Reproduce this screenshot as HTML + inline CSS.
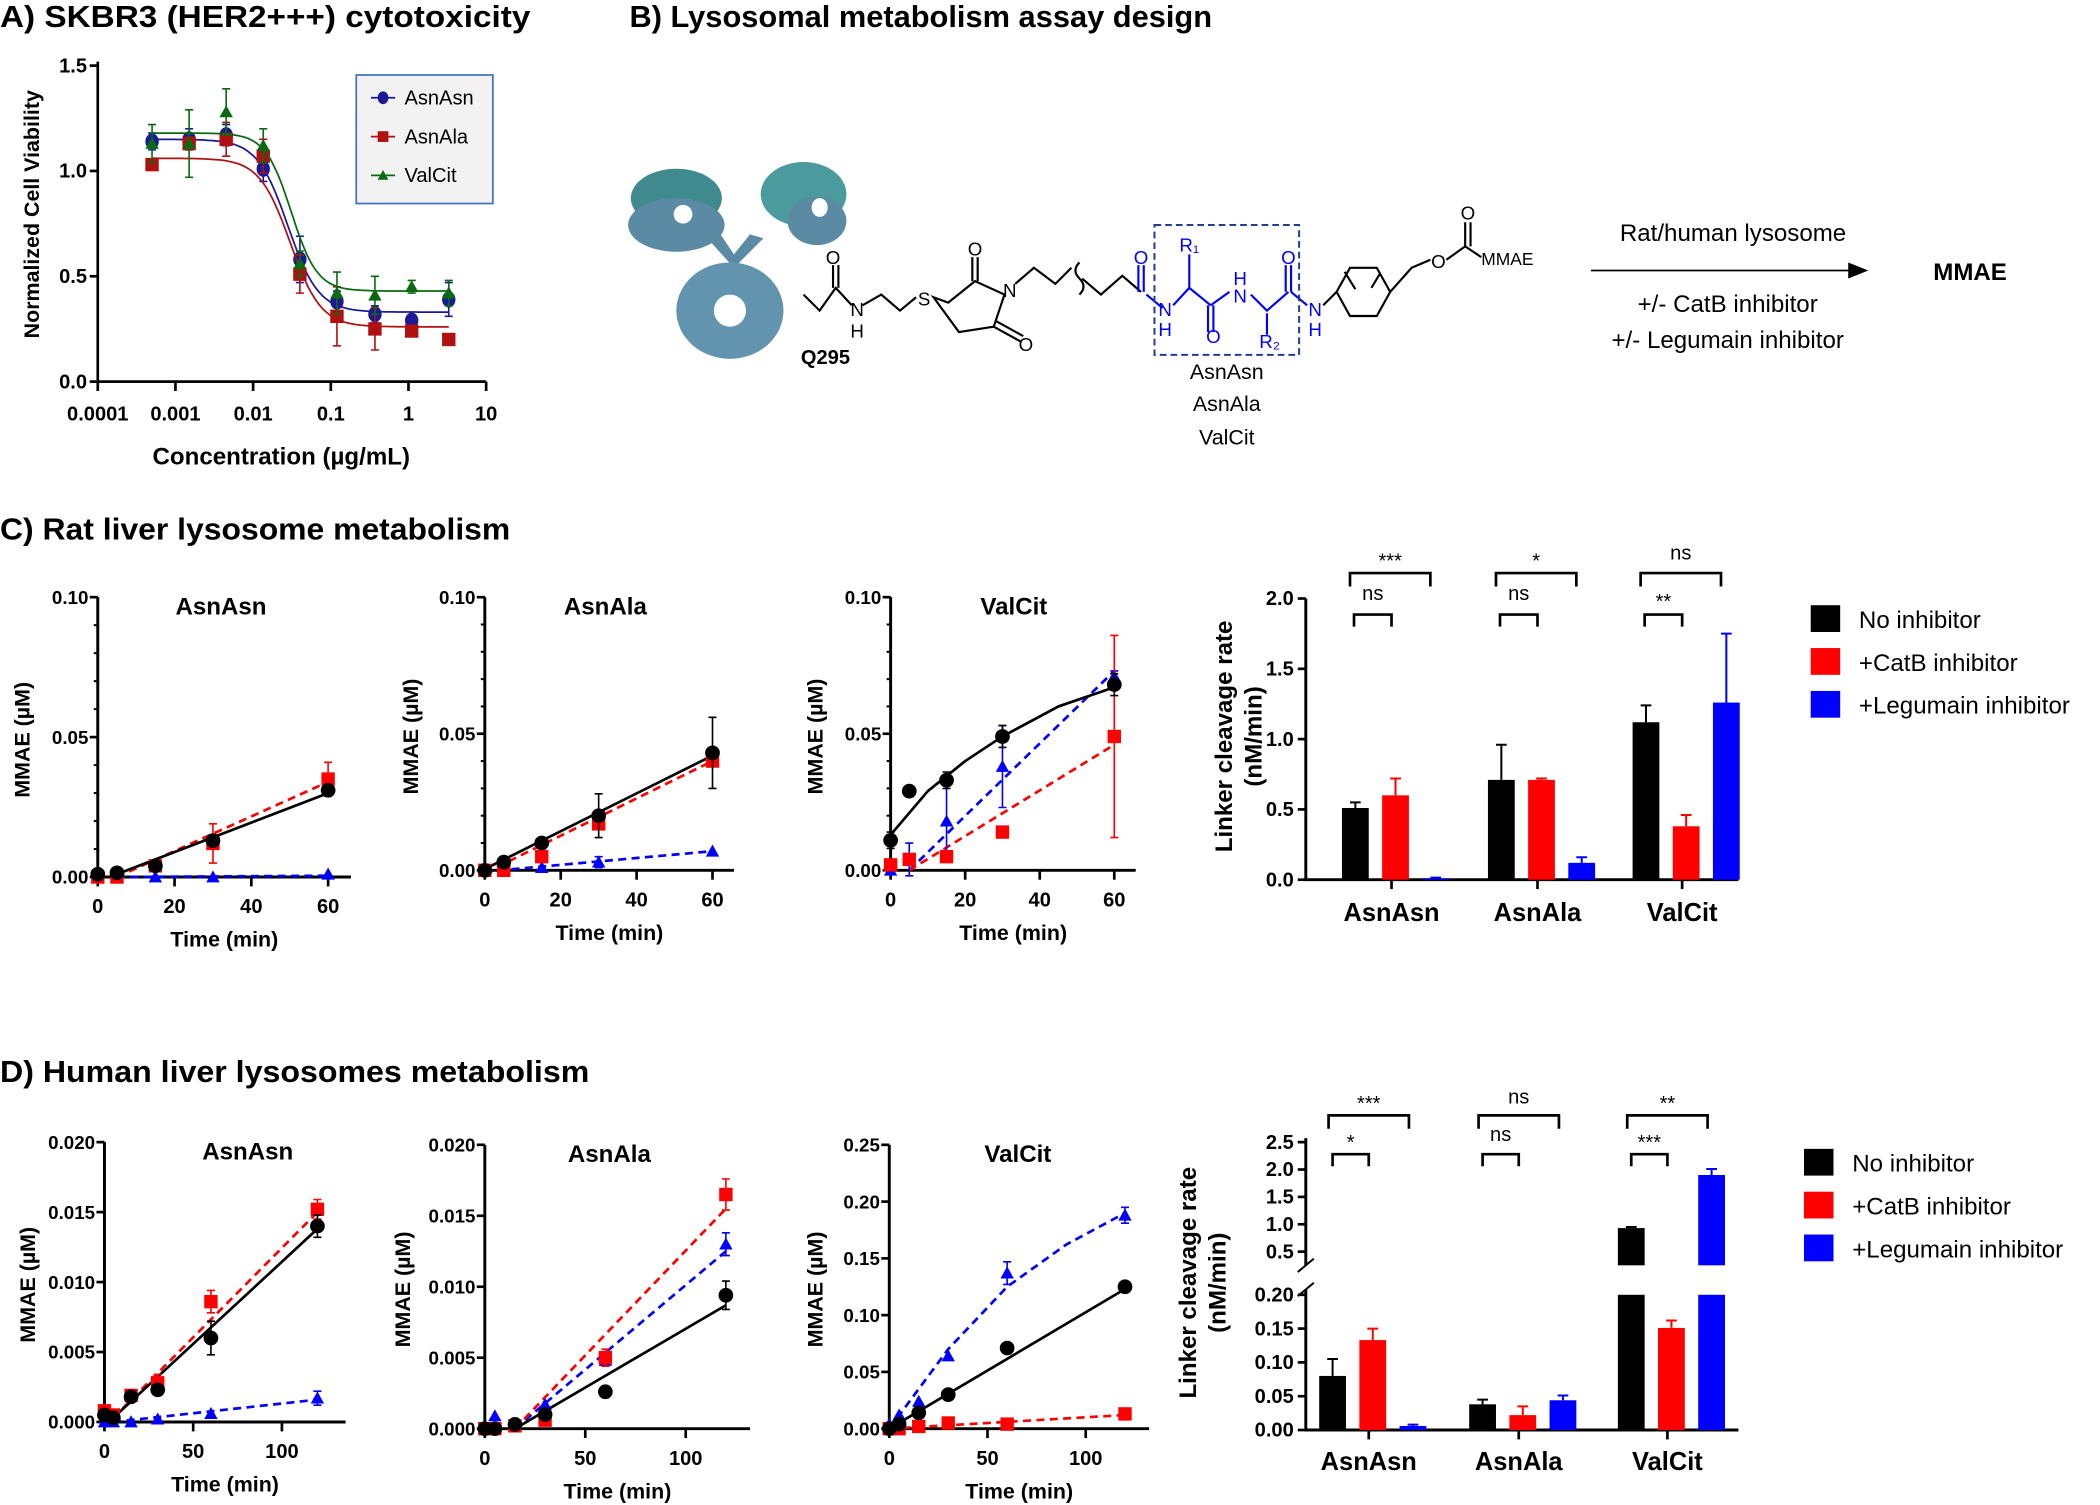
<!DOCTYPE html>
<html><head><meta charset="utf-8">
<style>
html,body{margin:0;padding:0;background:#fff;}
svg{display:block;}
text{font-family:"Liberation Sans",Arial,sans-serif;}
.t{font-size:23px;fill:#000;font-weight:bold;}
.b{font-weight:bold;}
</style></head>
<body>
<svg id="fig" xmlns="http://www.w3.org/2000/svg" width="2100" height="1505" viewBox="0 0 1568 1124" preserveAspectRatio="none">
<rect x="0" y="0" width="1568" height="1124" fill="#fff"/>
<text class="t" x="0" y="20" textLength="396" lengthAdjust="spacingAndGlyphs">A) SKBR3 (HER2+++) cytotoxicity</text>
<text class="t" x="470" y="20" textLength="435" lengthAdjust="spacingAndGlyphs">B) Lysosomal metabolism assay design</text>
<text class="t" x="0" y="403" textLength="381" lengthAdjust="spacingAndGlyphs">C) Rat liver lysosome metabolism</text>
<text class="t" x="0" y="808" textLength="440" lengthAdjust="spacingAndGlyphs">D) Human liver lysosomes metabolism</text>

<g id="antibody">
<ellipse cx="505" cy="148" rx="34" ry="22" fill="#3f8a8e"/>
<ellipse cx="505" cy="168" rx="36" ry="20" fill="#5a8aa4"/>
<ellipse cx="510" cy="160" rx="7" ry="7" fill="#fff"/>
<ellipse cx="600" cy="145" rx="32" ry="24" fill="#4a9a9e"/>
<ellipse cx="610" cy="165" rx="22" ry="18" fill="#5a8aa4"/>
<ellipse cx="612" cy="155" rx="6" ry="7" fill="#fff"/>
<path d="M530 180 L548 200 L570 178 L560 175 L548 190 L538 175 Z" fill="#5a8aa4"/>
<ellipse cx="545" cy="232" rx="40" ry="36" fill="#6294b0"/>
<ellipse cx="545" cy="232" rx="12" ry="12" fill="#fff"/>
</g>
<text x="598" y="272" font-size="15" class="b">Q295</text>
<g id="structure" fill="none" stroke-width="1.6"></g>
<rect x="862" y="168" width="108" height="97" fill="none" stroke="#1f3f8f" stroke-width="1.5" stroke-dasharray="5,3"/>
<text x="916" y="283" font-size="16" text-anchor="middle">AsnAsn</text>
<text x="916" y="307" font-size="16" text-anchor="middle">AsnAla</text>
<text x="916" y="332" font-size="16" text-anchor="middle">ValCit</text>
<text x="1294" y="180" font-size="18" text-anchor="middle">Rat/human lysosome</text>
<line x1="1188" y1="202" x2="1382" y2="202" stroke="#000" stroke-width="1.3"/>
<polygon points="1380,196 1395,202 1380,208" fill="#000"/>
<text x="1471" y="209" font-size="18" class="b" text-anchor="middle">MMAE</text>
<text x="1290" y="233" font-size="18" text-anchor="middle">+/- CatB inhibitor</text>
<text x="1290" y="260" font-size="18" text-anchor="middle">+/- Legumain inhibitor</text>
<g id="plots"></g>
</svg>
<script>
// ---------- Panel A data ----------
const concA = [0.0005,0.0015,0.0045,0.0135,0.04,0.12,0.37,1.1,3.3];
const aAsnAsn = [1.14,1.15,1.17,1.01,0.58,0.38,0.32,0.29,0.39];
const aAsnAsnErr = [0.04,0.05,0.05,0.06,0.11,0.05,0.04,0.02,0.08];
const aAsnAla = [1.03,1.13,1.15,1.07,0.51,0.31,0.25,0.24,0.20];
const aAsnAlaErr = [0.02,0.03,0.08,0.08,0.09,0.14,0.10,0.02,0.02];
const aValCit = [1.13,1.13,1.28,1.12,0.56,0.42,0.41,0.45,0.42];
const aValCitErr = [0.09,0.16,0.11,0.08,0.06,0.10,0.09,0.03,0.06];
const aFitTop = [1.15,1.06,1.18];
const aFitBottom = [0.33,0.26,0.43];
const aFitEC50 = [0.028,0.030,0.031];
const aFitHill = [2.2,2.2,2.6];
// ---------- Panel C line data ----------
const tC = [0,5,15,30,60];
const c1Black=[0.001,0.0015,0.004,0.013,0.031], c1BlackErr=[0.001,0.001,0.001,0.001,0.002];
const c1Red=[0,0,0.004,0.012,0.035], c1RedErr=[0,0,0.001,0.007,0.006];
const c1Blue=[0,0,0,0,0.001], c1BlueErr=[0,0,0,0,0];
const c1FitT=[5,60], c1FitBlack=[0.001,0.030], c1FitRed=[0.0,0.034], c1FitBlue=[0,0.0005];
const c2Black=[0,0.003,0.01,0.02,0.043], c2BlackErr=[0,0,0,0.008,0.013];
const c2Red=[0,0,0.005,0.017,0.04], c2RedErr=[0,0,0,0.002,0.002];
const c2Blue=[0,0,0.001,0.003,0.007], c2BlueErr=[0,0,0,0.002,0];
const c2FitT=[0,60], c2FitBlack=[0.0005,0.042], c2FitRed=[-0.001,0.040], c2FitBlue=[-0.0005,0.007];
const c3Black=[0.011,0.029,0.033,0.049,0.068], c3BlackErr=[0.003,0,0.003,0.004,0.004];
const c3Red=[0.002,0.004,0.005,0.014,0.049], c3RedErr=[0,0,0,0,0.037];
const c3Blue=[0,0.004,0.018,0.038,0.071], c3BlueErr=[0,0.006,0.015,0.015,0.002];
const c3FitTBlack=[0,10,20,30,45,60], c3FitBlack=[0.013,0.029,0.040,0.049,0.060,0.067];
const c3FitT=[5,60], c3FitRed=[0,0.046], c3FitBlue=[0,0.073];
// ---------- Panel D line data ----------
const tD = [0,5,15,30,60,120];
const d1Black=[0.0005,0.0003,0.0018,0.0023,0.006,0.014], d1BlackErr=[0.0003,0.0003,0.0002,0.0003,0.0012,0.0008];
const d1Red=[0.0008,0.0005,0.0019,0.0028,0.0086,0.0152], d1RedErr=[0.0003,0.0002,0.0002,0.0006,0.0008,0.0007];
const d1Blue=[0,0,0,0.0002,0.0006,0.0017], d1BlueErr=[0,0,0,0,0,0.0005];
const d1FitT=[5,120], d1FitBlack=[0.0003,0.0138], d1FitRed=[0.0003,0.0150], d1FitBlue=[0,0.0016];
const d2Black=[0,0,0.0003,0.001,0.0026,0.0094], d2BlackErr=[0,0,0,0.0004,0.0004,0.001];
const d2Red=[0,0,0.0002,0.0006,0.005,0.0165], d2RedErr=[0,0,0,0,0.0006,0.0011];
const d2Blue=[0,0.0009,0.0003,0.0017,0.0048,0.013], d2BlueErr=[0,0,0,0,0,0.0008];
const d2FitT=[15,120], d2FitBlack=[0,0.0087], d2FitRed=[0,0.0155], d2FitBlue=[0,0.0125];
const d3Black=[0,0.004,0.014,0.03,0.071,0.125], d3BlackErr=[0,0,0,0,0,0.002];
const d3Red=[0,0,0.002,0.005,0.004,0.013], d3RedErr=[0,0,0,0,0,0];
const d3Blue=[0.004,0.012,0.024,0.064,0.137,0.188], d3BlueErr=[0,0,0,0,0.01,0.007];
const d3FitT=[0,120], d3FitBlack=[0,0.123], d3FitRed=[0,0.012];
const d3FitTBlue=[0,15,30,60,90,120], d3FitBlue=[0,0.035,0.07,0.125,0.162,0.19];
// ---------- Bar data ----------
const barGroups=["AsnAsn","AsnAla","ValCit"];
const barSeries=["No inhibitor","+CatB inhibitor","+Legumain inhibitor"];
const cBarNone=[0.51,0.71,1.12], cBarNoneErr=[0.04,0.25,0.12];
const cBarCatB=[0.60,0.71,0.38], cBarCatBErr=[0.12,0.01,0.08];
const cBarLeg=[0.01,0.12,1.26], cBarLegErr=[0.005,0.04,0.49];
const cSigTop=["***","*","ns"], cSigLow=["ns","ns","**"];
const dBarNone=[0.080,0.038,0.93], dBarNoneErr=[0.025,0.007,0.02];
const dBarCatB=[0.133,0.022,0.151], dBarCatBErr=[0.017,0.013,0.011];
const dBarLeg=[0.006,0.044,1.90], dBarLegErr=[0.002,0.007,0.11];
const dSigTop=["***","ns","**"], dSigLow=["*","ns","***"];

const NS="http://www.w3.org/2000/svg";
const root=document.getElementById('plots');
function mk(tag,attrs,parent){const e=document.createElementNS(NS,tag);for(const k in attrs)e.setAttribute(k,attrs[k]);(parent||root).appendChild(e);return e;}
const COL={black:"#000",red:"#ff0000",blue:"#0000ff"};

function marker(g,kind,x,y,color,s){
  let e;
  if(kind==='circle') e=mk('circle',{cx:x,cy:y,r:s,fill:color},g);
  else if(kind==='square') e=mk('rect',{x:x-s,y:y-s,width:2*s,height:2*s,fill:color},g);
  else if(kind==='diamond') e=mk('ellipse',{cx:x,cy:y,rx:s,ry:s*1.2,fill:color},g);
  else e=mk('polygon',{points:`${x},${y-s} ${x+s},${y+s*0.8} ${x-s},${y+s*0.8}`,fill:color},g);
  
  
}
function errbar(g,x,y1,y2,color,cw){
  const p=mk('path',{d:`M${x} ${y1}V${y2}M${x-cw} ${y1}H${x+cw}M${x-cw} ${y2}H${x+cw}`,stroke:color,'stroke-width':1.2,fill:'none'},g);
  
  
}
function text(g,x,y,s,size,opts){
  const t=mk('text',Object.assign({x:x,y:y,'font-size':size},opts||{}),g);t.textContent=s;return t;
}

// ---------- Panel A ----------
(function(){
  const g=mk('g',{});
  
  
  const x=c=>73+(Math.log10(c)+4)*58, y=v=>285-v/1.5*236;
  const ax=mk('path',{d:`M73 46V285H363`,stroke:'#000','stroke-width':2,fill:'none'},g);
  
  
  [0,0.5,1.0,1.5].forEach(v=>{mk('line',{x1:67,x2:73,y1:y(v),y2:y(v),stroke:'#000','stroke-width':2},g);
    const t=text(g,65,y(v)+5,v.toFixed(1),15,{'text-anchor':'end','font-weight':'bold'});
    });
  ["0.0001","0.001","0.01","0.1","1","10"].forEach((s,i)=>{const c=Math.pow(10,i-4);
    mk('line',{x1:x(c),x2:x(c),y1:285,y2:292,stroke:'#000','stroke-width':2},g);
    const t=text(g,x(c),314,s,15,{'text-anchor':'middle','font-weight':'bold'});
    });
  let t=text(g,210,347,"Concentration (µg/mL)",18,{'text-anchor':'middle','font-weight':'bold'});
  
  t=text(g,0,0,"Normalized Cell Viability",16,{'text-anchor':'middle','font-weight':'bold',transform:'translate(29,160) rotate(-90)'});
  
  const series=[[aAsnAsn,aAsnAsnErr,'#1a1a99','diamond'],[aAsnAla,aAsnAlaErr,'#b01010','square'],[aValCit,aValCitErr,'#0a6a10','tri']];
  series.forEach((s,si)=>{
    let d='';for(let i=0;i<=80;i++){const lc=Math.log10(0.0005)+i/80*(Math.log10(3.3)-Math.log10(0.0005));const c=Math.pow(10,lc);
      const v=aFitBottom[si]+(aFitTop[si]-aFitBottom[si])/(1+Math.pow(c/aFitEC50[si],aFitHill[si]));d+=(i?'L':'M')+x(c).toFixed(1)+' '+y(v).toFixed(1);}
    const p=mk('path',{d:d,stroke:s[2],'stroke-width':1.3,fill:'none'},g);
    
    concA.forEach((c,i)=>{if(s[1][i]>0)errbar(g,x(c),y(s[0][i]+s[1][i]),y(s[0][i]-s[1][i]),s[2],3);marker(g,s[3],x(c),y(s[0][i]),s[2],5);});
  });
  const lg=mk('g',{},g);
  
  mk('rect',{x:266,y:56,width:102,height:96,fill:'#f2f2f2',stroke:'#4472c4','stroke-width':1.3},lg);
  [['AsnAsn','#1a1a99','diamond'],['AsnAla','#b01010','square'],['ValCit','#0a6a10','tri']].forEach((e,i)=>{
    const yy=73+i*29;mk('line',{x1:277,x2:295,y1:yy,y2:yy,stroke:e[1],'stroke-width':1.3},lg);marker(lg,e[2],286,yy,e[1],4);
    const t=text(lg,302,yy+5,e[0],15,{});});
})();

// ---------- Panel B structure ----------
(function(){
  const g=document.getElementById('structure');
  const blk=[
   "M600 220 L612 232 L624 215 L636 228",
   "M622 215 V198 M626 215 V198",
   "M644 228 L658 220 L672 232 L684 222",
   "M697 222 L708 226 L728 210 L750 220 L742 244 L716 248 Z",
   "M726 210 V192 M730 210 V192",
   "M742 244 L762 255 M744 240 L764 251",
   "M758 212 L772 200 L788 212 L800 200",
   "M806 196 Q800 202 806 208 Q812 214 806 220",
   "M808 208 L822 220 L838 206 L852 218"];
  blk.forEach(d=>{const p=mk('path',{d:d,stroke:'#000','stroke-width':1.6,fill:'none'},g);});
  const blu=[
   "M850 218 V198 M854 218 V198",
   "M856 220 L868 230",
   "M876 228 L888 215 L904 228",
   "M888 215 V190",
   "M902 228 V248 M906 228 V248",
   "M904 228 L918 218",
   "M934 220 L946 232 L962 218",
   "M946 234 V250",
   "M960 218 V198 M964 218 V198",
   "M964 218 L976 228"];
  blu.forEach(d=>{const p=mk('path',{d:d,stroke:'#0000ff','stroke-width':1.6,fill:'none'},g);});
  const blk2=["M988 228 L998 218","M998 218 L1008 200 L1028 200 L1038 218 L1028 236 L1008 236 Z","M1004 203 L1012 216 M1030 205 L1024 215","M1038 218 L1054 200 L1068 194","M1080 194 L1094 184 V166 M1098 184 V166 M1094 184 L1106 192"];
  blk2.forEach(d=>{const p=mk('path',{d:d,stroke:'#000','stroke-width':1.6,fill:'none'},g);});
  const labels=[[622,197,'O','#000'],[640,236,'N','#000'],[640,252,'H','#000'],[690,228,'S','#000'],[728,191,'O','#000'],[754,222,'N','#000'],[766,262,'O','#000'],
   [852,197,'O','#0000ff'],[870,236,'N','#0000ff'],[870,251,'H','#0000ff'],[888,188,'R₁','#0000ff'],[906,256,'O','#0000ff'],[926,213,'H','#0000ff'],[926,226,'N','#0000ff'],
   [948,260,'R₂','#0000ff'],[962,197,'O','#0000ff'],[982,236,'N','#0000ff'],[982,251,'H','#0000ff'],[1074,200,'O','#000'],[1096,164,'O','#000']];
  labels.forEach(l=>{const t=text(g,l[0],l[1],l[2],14,{'text-anchor':'middle',fill:l[3],stroke:'none'});});
  const t=text(g,1106,198,'MMAE',13,{fill:'#000',stroke:'none'});
})();

// ---------- Line plots ----------
function linePlot(cfg){
  const g=mk('g',{});
  
  
  const x=t=>cfg.x0+t/cfg.tmax*(cfg.x1-cfg.x0), y=v=>cfg.y0-v/cfg.vmax*(cfg.y0-cfg.y1);
  const ax=mk('path',{d:`M${cfg.x0} ${cfg.y1}V${cfg.y0}H${cfg.xend}`,stroke:'#000','stroke-width':2.2,fill:'none'},g);
  
  for(let k=0;k<=cfg.minorN;k++){const v=k*cfg.vmax/cfg.minorN;mk('line',{x1:cfg.x0-3,x2:cfg.x0,y1:y(v),y2:y(v),stroke:'#000','stroke-width':1.5},g);}
  cfg.yTicks.forEach(s=>{const v=parseFloat(s);mk('line',{x1:cfg.x0-6,x2:cfg.x0,y1:y(v),y2:y(v),stroke:'#000','stroke-width':2},g);
    const t=text(g,cfg.x0-7,y(v)+5,s,14,{'text-anchor':'end','font-weight':'bold'});});
  cfg.xTicks.forEach(s=>{const v=parseFloat(s);mk('line',{x1:x(v),x2:x(v),y1:cfg.y0,y2:cfg.y0+7,stroke:'#000','stroke-width':2},g);
    const t=text(g,x(v),cfg.y0+27,s,15,{'text-anchor':'middle','font-weight':'bold'});});
  let t=text(g,cfg.titleX,cfg.y1+13,cfg.title,18,{'text-anchor':'middle','font-weight':'bold'});
  t=text(g,(cfg.x0+cfg.xend)/2,cfg.y0+52,"Time (min)",16,{'text-anchor':'middle','font-weight':'bold'});
  t=text(g,0,0,"MMAE (µM)",16,{'text-anchor':'middle','font-weight':'bold',transform:`translate(${cfg.ylx},${(cfg.y0+cfg.y1)/2+2}) rotate(-90)`});
  cfg.fits.forEach(f=>{let d='';f.t.forEach((tt,i)=>{d+=(i?'L':'M')+x(tt).toFixed(1)+' '+y(f.v[i]).toFixed(1);});
    const p=mk('path',{d:d,stroke:COL[f.c],'stroke-width':2,fill:'none','stroke-dasharray':f.c==='black'?'none':'6,4','stroke-linejoin':'round'},g);
    });
  cfg.series.forEach(s=>{cfg.t.forEach((tt,i)=>{const v=s.v[i],e=s.e[i];
    if(e>0)errbar(g,x(tt),y(v+e),y(v-e),COL[s.c],3);
    marker(g,s.c==='black'?'circle':(s.c==='red'?'square':'tri'),x(tt),y(v),COL[s.c],s.c==='black'?5.5:5);});});
}
const cX={tmax:60,minorN:10,yTicks:["0.00","0.05","0.10"],xTicks:["0","20","40","60"]};
linePlot(Object.assign({},cX,{name:'rat-asnasn-plot',x0:73,x1:245,xend:262,y0:655,y1:446,vmax:0.10,title:'AsnAsn',titleX:165,ylx:22,t:tC,
  series:[{c:'blue',v:c1Blue,e:c1BlueErr},{c:'red',v:c1Red,e:c1RedErr},{c:'black',v:c1Black,e:c1BlackErr}],
  fits:[{c:'blue',t:c1FitT,v:c1FitBlue},{c:'red',t:c1FitT,v:c1FitRed},{c:'black',t:c1FitT,v:c1FitBlack}]}));
linePlot(Object.assign({},cX,{name:'rat-asnala-plot',x0:362,x1:532,xend:548,y0:650,y1:446,vmax:0.10,title:'AsnAla',titleX:452,ylx:312,t:tC,
  series:[{c:'blue',v:c2Blue,e:c2BlueErr},{c:'red',v:c2Red,e:c2RedErr},{c:'black',v:c2Black,e:c2BlackErr}],
  fits:[{c:'blue',t:c2FitT,v:c2FitBlue},{c:'red',t:c2FitT,v:c2FitRed},{c:'black',t:c2FitT,v:c2FitBlack}]}));
linePlot(Object.assign({},cX,{name:'rat-valcit-plot',x0:665,x1:832,xend:848,y0:650,y1:446,vmax:0.10,title:'ValCit',titleX:757,ylx:614,t:tC,
  series:[{c:'blue',v:c3Blue,e:c3BlueErr},{c:'red',v:c3Red,e:c3RedErr},{c:'black',v:c3Black,e:c3BlackErr}],
  fits:[{c:'blue',t:c3FitT,v:c3FitBlue},{c:'red',t:c3FitT,v:c3FitRed},{c:'black',t:c3FitTBlack,v:c3FitBlack}]}));
const dX={tmax:120,xTicks:["0","50","100"]};
linePlot(Object.assign({},dX,{name:'human-asnasn-plot',x0:78,x1:237,xend:258,y0:1062,y1:853,vmax:0.020,minorN:4,yTicks:["0.000","0.005","0.010","0.015","0.020"],title:'AsnAsn',titleX:185,ylx:26,t:tD,
  series:[{c:'blue',v:d1Blue,e:d1BlueErr},{c:'red',v:d1Red,e:d1RedErr},{c:'black',v:d1Black,e:d1BlackErr}],
  fits:[{c:'blue',t:d1FitT,v:d1FitBlue},{c:'red',t:d1FitT,v:d1FitRed},{c:'black',t:d1FitT,v:d1FitBlack}]}));
linePlot(Object.assign({},dX,{name:'human-asnala-plot',x0:362,x1:542,xend:560,y0:1067,y1:855,vmax:0.020,minorN:4,yTicks:["0.000","0.005","0.010","0.015","0.020"],title:'AsnAla',titleX:455,ylx:306,t:tD,
  series:[{c:'blue',v:d2Blue,e:d2BlueErr},{c:'red',v:d2Red,e:d2RedErr},{c:'black',v:d2Black,e:d2BlackErr}],
  fits:[{c:'blue',t:d2FitT,v:d2FitBlue},{c:'red',t:d2FitT,v:d2FitRed},{c:'black',t:d2FitT,v:d2FitBlack}]}));
linePlot(Object.assign({},dX,{name:'human-valcit-plot',x0:664,x1:840,xend:858,y0:1067,y1:855,vmax:0.25,minorN:5,yTicks:["0.00","0.05","0.10","0.15","0.20","0.25"],title:'ValCit',titleX:760,ylx:614,t:tD,
  series:[{c:'blue',v:d3Blue,e:d3BlueErr},{c:'red',v:d3Red,e:d3RedErr},{c:'black',v:d3Black,e:d3BlackErr}],
  fits:[{c:'blue',t:d3FitTBlue,v:d3FitBlue},{c:'red',t:d3FitT,v:d3FitRed},{c:'black',t:d3FitT,v:d3FitBlack}]}));

// ---------- Bar charts ----------
function legend(g,x,y0,dy){
  [COL.black,COL.red,COL.blue].forEach((c,i)=>{const yy=y0+i*dy;
    const r=mk('rect',{x:x,y:yy,width:22,height:20,fill:c},g);
    const t=text(g,x+36,yy+17,barSeries[i],18,{});});
}
function bracket(g,x1,x2,y,h,label,ly){
  const p=mk('path',{d:`M${x1} ${y+h}V${y}H${x2}V${y+h}`,stroke:'#000','stroke-width':2,fill:'none'},g);
  
  const t=text(g,(x1+x2)/2,ly,label,15,{'text-anchor':'middle'});
}
(function(){
  const g=mk('g',{});
  
  
  const y=v=>657-v/2*210, cx=[1039,1148,1256], off=[-27,3,33];
  const ax=mk('path',{d:`M975 447V657H1298`,stroke:'#000','stroke-width':2.2,fill:'none'},g);
  
  ["0.0","0.5","1.0","1.5","2.0"].forEach(s=>{const v=parseFloat(s);mk('line',{x1:969,x2:975,y1:y(v),y2:y(v),stroke:'#000','stroke-width':2},g);
    const t=text(g,966,y(v)+5,s,15,{'text-anchor':'end','font-weight':'bold'});});
  const vals=[[cBarNone,cBarNoneErr],[cBarCatB,cBarCatBErr],[cBarLeg,cBarLegErr]], cols=[COL.black,COL.red,COL.blue];
  barGroups.forEach((gn,gi)=>{
    mk('line',{x1:cx[gi],x2:cx[gi],y1:657,y2:664,stroke:'#000','stroke-width':2},g);
    const t=text(g,cx[gi],688,gn,19,{'text-anchor':'middle','font-weight':'bold'});
    vals.forEach((s,si)=>{const v=s[0][gi],e=s[1][gi],bx=cx[gi]+off[si]-10;
      const r=mk('rect',{x:bx,y:y(v),width:20,height:657-y(v),fill:cols[si]},g);
      const p=mk('path',{d:`M${bx+10} ${y(v)}V${y(v+e)}M${bx+6} ${y(v+e)}H${bx+14}`,stroke:cols[si],'stroke-width':1.5,fill:'none'},g);
      });
    bracket(g,cx[gi]-31,cx[gi]+29,428,10,cSigTop[gi],cSigTop[gi]==='ns'?418:424);
    bracket(g,cx[gi]-28,cx[gi]+0,459,9,cSigLow[gi],cSigLow[gi]==='ns'?448:454);
  });
  const t=text(g,0,0,"Linker cleavage rate",18,{'text-anchor':'middle','font-weight':'bold',transform:'translate(920,550) rotate(-90)'});
  const t2=text(g,0,0,"(nM/min)",18,{'text-anchor':'middle','font-weight':'bold',transform:'translate(942,550) rotate(-90)'});
  legend(g,1352,452,32);
})();
(function(){
  const g=mk('g',{});
  
  
  const yl=v=>1068-v/0.2*101, yu=v=>945-(v-0.25)/2.25*92;
  const y=v=>v<=0.2?yl(v):yu(v);
  const cx=[1022,1134,1245], off=[-27,3,33];
  const ax=mk('path',{d:`M975 850V945M975 963V1068H1298`,stroke:'#000','stroke-width':2.2,fill:'none'},g);
  
  const br=mk('path',{d:'M969 950L981 940M969 968L981 958',stroke:'#000','stroke-width':1.5},g);
  
  ["0.5","1.0","1.5","2.0","2.5"].forEach(s=>{const v=parseFloat(s);mk('line',{x1:969,x2:975,y1:yu(v),y2:yu(v),stroke:'#000','stroke-width':2},g);
    const t=text(g,966,yu(v)+5,s,15,{'text-anchor':'end','font-weight':'bold'});});
  ["0.00","0.05","0.10","0.15","0.20"].forEach(s=>{const v=parseFloat(s);mk('line',{x1:969,x2:975,y1:yl(v),y2:yl(v),stroke:'#000','stroke-width':2},g);
    const t=text(g,966,yl(v)+5,s,15,{'text-anchor':'end','font-weight':'bold'});});
  const vals=[[dBarNone,dBarNoneErr],[dBarCatB,dBarCatBErr],[dBarLeg,dBarLegErr]], cols=[COL.black,COL.red,COL.blue];
  barGroups.forEach((gn,gi)=>{
    mk('line',{x1:cx[gi],x2:cx[gi],y1:1068,y2:1075,stroke:'#000','stroke-width':2},g);
    const t=text(g,cx[gi],1098,gn,19,{'text-anchor':'middle','font-weight':'bold'});
    vals.forEach((s,si)=>{const v=s[0][gi],e=s[1][gi],bx=cx[gi]+off[si]-10;
      let r;
      if(v<=0.2){r=mk('rect',{x:bx,y:yl(v),width:20,height:1068-yl(v),fill:cols[si]},g);}
      else{r=mk('rect',{x:bx,y:yl(0.2),width:20,height:1068-yl(0.2),fill:cols[si]},g);
        const r2=mk('rect',{x:bx,y:yu(v),width:20,height:945-yu(v),fill:cols[si]},g);}
      
      const p=mk('path',{d:`M${bx+10} ${y(v)}V${y(v+e)}M${bx+6} ${y(v+e)}H${bx+14}`,stroke:cols[si],'stroke-width':1.5,fill:'none'},g);
      });
    bracket(g,cx[gi]-30,cx[gi]+30,833,10,dSigTop[gi],dSigTop[gi]==='ns'?824:829);
    bracket(g,cx[gi]-27,cx[gi]+0,862,9,dSigLow[gi],dSigLow[gi]==='ns'?852:858);
  });
  const t=text(g,0,0,"Linker cleavage rate",18,{'text-anchor':'middle','font-weight':'bold',transform:'translate(893,958) rotate(-90)'});
  const t2=text(g,0,0,"(nM/min)",18,{'text-anchor':'middle','font-weight':'bold',transform:'translate(915,958) rotate(-90)'});
  legend(g,1347,858,32);
})();
</script>
</body></html>
